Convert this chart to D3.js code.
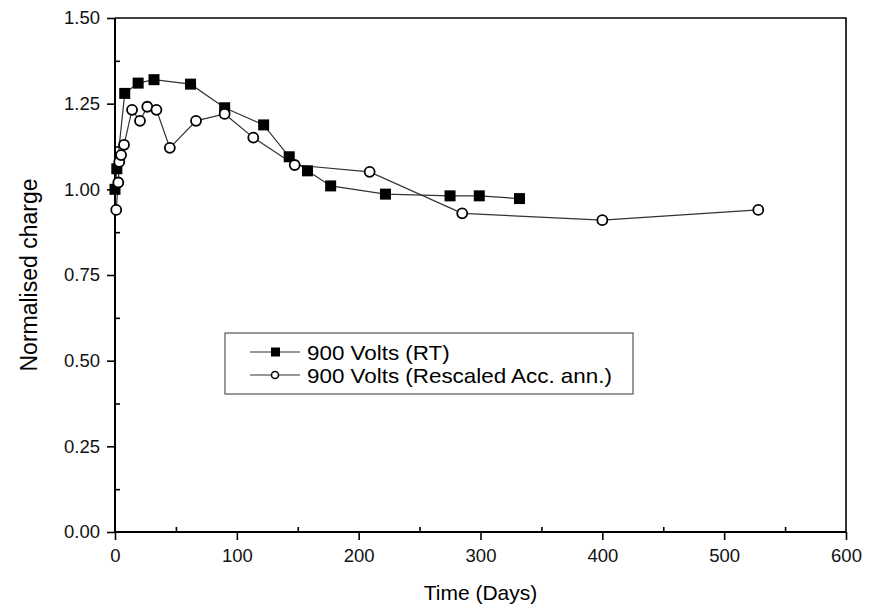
<!DOCTYPE html>
<html>
<head>
<meta charset="utf-8">
<script src="https://cdn.jsdelivr.net/npm/d3@7"></script>
<style>
  body { margin: 0; background: #fff; }
  svg { font-family: "Liberation Sans", Arial, sans-serif; }
</style>
</head>
<body>
<svg id="chart" width="874" height="605"></svg>
<script>
// data
var rtDays = [0, 1.5, 8, 19, 32, 62, 90, 122, 143, 158, 177, 222, 275, 299, 332]
var rtCharge = [1.00, 1.06, 1.28, 1.31, 1.32, 1.307, 1.238, 1.188, 1.095, 1.054, 1.01, 0.986, 0.981, 0.981, 0.973]

var accDays = [1, 2.7, 3.5, 5, 7.4, 14, 20.5, 26.5, 34, 45, 66.5, 90, 113.5, 147.5, 209, 285, 400, 528]
var accCharge = [0.94, 1.02, 1.08, 1.10, 1.13, 1.232, 1.20, 1.241, 1.232, 1.121, 1.20, 1.22, 1.151, 1.071, 1.051, 0.93, 0.91, 0.94]

var xTicks = [0, 100, 200, 300, 400, 500, 600]
var xMinor = [50, 150, 250, 350, 450, 550]
var yTicks = [0, 0.25, 0.5, 0.75, 1.0, 1.25, 1.5]
var yMinor = [0.125, 0.375, 0.625, 0.875, 1.125, 1.375]

var legendLabels = ["900 Volts (RT)", "900 Volts (Rescaled Acc. ann.)"]

var margin = { top: 18, left: 115, bottom: 73, right: 28 }
var svg = d3.select("#chart")
var width = 874 - margin.left - margin.right
var height = 605 - margin.top - margin.bottom

var x = d3.scaleLinear().domain([0, 600]).range([0, width])
var y = d3.scaleLinear().domain([0, 1.5]).range([height, 0])

var g = svg.append("g").attr("transform", `translate(${margin.left},${margin.top})`)

// frame (top + right)
g.append("path")
    .attr("d", `M0,0H${width}V${height}`)
    .attr("fill", "none")
    .attr("stroke", "#000")
    .attr("stroke-width", 1.6)

// bottom axis
var xAxis = g.append("g")
    .attr("transform", `translate(0,${height})`)
    .call(d3.axisBottom(x).tickValues(xTicks).tickFormat(d3.format("d")).tickSize(8).tickPadding(9))
var xMin = g.append("g")
    .attr("transform", `translate(0,${height})`)
    .call(d3.axisTop(x).tickValues(xMinor).tickFormat("").tickSize(5))
xMin.select(".domain").remove()

// left axis
var yAxis = g.append("g")
    .call(d3.axisLeft(y).tickValues(yTicks).tickFormat(d3.format(".2f")).tickSize(8).tickPadding(7))
var yMin = g.append("g")
    .call(d3.axisRight(y).tickValues(yMinor).tickFormat("").tickSize(5))
yMin.select(".domain").remove()

g.selectAll(".domain").attr("stroke-width", 2).attr("d", function () {
    return d3.select(this.parentNode).attr("transform") ? `M0,0H${width}` : `M0,0V${height}`
})
g.selectAll(".tick line").attr("stroke-width", 1.6)
g.selectAll(".tick text").attr("font-size", 18.5).attr("fill", "#111")
g.selectAll(".tick text").attr("font-family", "Liberation Sans, Arial, sans-serif")

// axis titles
svg.append("text")
    .attr("x", margin.left + width / 2)
    .attr("y", 600)
    .attr("text-anchor", "middle")
    .attr("font-size", 21)
    .text("Time (Days)")
svg.append("text")
    .attr("transform", `translate(37,${margin.top + height / 2}) rotate(-90)`)
    .attr("text-anchor", "middle")
    .attr("font-size", 23)
    .text("Normalised charge")

var line = d3.line().x(function (d) { return x(d[0]) }).y(function (d) { return y(d[1]) })
var rt = d3.zip(rtDays, rtCharge)
var acc = d3.zip(accDays, accCharge)

g.append("path").datum(rt).attr("d", line)
    .attr("fill", "none").attr("stroke", "#333").attr("stroke-width", 1.2)
g.append("path").datum(acc).attr("d", line)
    .attr("fill", "none").attr("stroke", "#333").attr("stroke-width", 1.2)

g.selectAll(".sq").data(rt).join("rect")
    .attr("class", "sq")
    .attr("x", function (d) { return x(d[0]) - 5.5 })
    .attr("y", function (d) { return y(d[1]) - 5.5 })
    .attr("width", 11).attr("height", 11)
    .attr("fill", "#000")

g.selectAll(".ci").data(acc).join("circle")
    .attr("class", "ci")
    .attr("cx", function (d) { return x(d[0]) })
    .attr("cy", function (d) { return y(d[1]) })
    .attr("r", 5)
    .attr("fill", "#fff").attr("stroke", "#000").attr("stroke-width", 1.8)

// legend
var lg = svg.append("g").attr("transform", "translate(225,333)")
lg.append("rect").attr("width", 408).attr("height", 61)
    .attr("fill", "#fff").attr("stroke", "#555").attr("stroke-width", 1.2)
legendLabels.forEach(function (lab, i) {
    var ly = 19 + i * 23
    lg.append("line").attr("x1", 25).attr("x2", 75).attr("y1", ly).attr("y2", ly)
        .attr("stroke", "#333").attr("stroke-width", 1.2)
    if (i == 0) {
        lg.append("rect").attr("x", 46).attr("y", ly - 4.5).attr("width", 9).attr("height", 9).attr("fill", "#000")
    } else {
        lg.append("circle").attr("cx", 50).attr("cy", ly).attr("r", 3.5)
            .attr("fill", "#fff").attr("stroke", "#000").attr("stroke-width", 1.5)
    }
    // reference text is a little wider than Liberation Sans at this size
    lg.append("text")
        .attr("transform", `translate(82,${ly + 7.5}) scale(1.12,1)`)
        .attr("font-size", 20).text(lab)
})
</script>
</body>
</html>
